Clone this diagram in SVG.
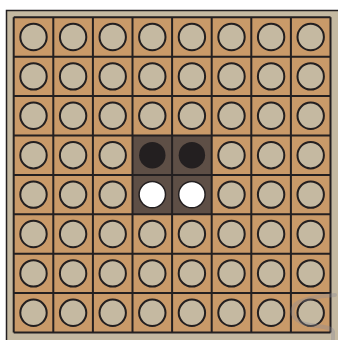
<svg xmlns="http://www.w3.org/2000/svg" width="338" height="340" viewBox="0 0 338 340">
<style>
.e{fill:#c5b9a1;stroke:#231f20;stroke-width:2}
.b{fill:#231f20}
.w{fill:#ffffff;stroke:#231f20;stroke-width:1.5}
.g{fill:none;stroke:#231f20;stroke-width:2}
</style>
<rect x="0" y="0" width="338" height="340" fill="#ffffff"/>
<rect x="6.5" y="10.5" width="332" height="330" fill="#c5b9a1"/>
<path d="M6.5 340V10.5H338" fill="none" stroke="#231f20" stroke-width="1.5"/>
<g id="board">
<rect x="13.7" y="17.3" width="316.8" height="315.2" fill="#c99a69"/>
<rect x="132.5" y="135.5" width="79.2" height="78.8" fill="#5e4f46"/>
<path class="g" d="M13.7 17.3V332.5M53.3 17.3V332.5M92.9 17.3V332.5M132.5 17.3V332.5M172.1 17.3V332.5M211.7 17.3V332.5M251.3 17.3V332.5M290.9 17.3V332.5M330.5 17.3V332.5M13.7 17.3H330.5M13.7 56.7H330.5M13.7 96.1H330.5M13.7 135.5H330.5M13.7 174.9H330.5M13.7 214.3H330.5M13.7 253.7H330.5M13.7 293.1H330.5M13.7 332.5H330.5"/>
</g>
<defs><circle id="c" r="13.2"/></defs>
<g id="r0"><use href="#c" class="e" x="33.5" y="37"/><use href="#c" class="e" x="73.1" y="37"/><use href="#c" class="e" x="112.7" y="37"/><use href="#c" class="e" x="152.3" y="37"/><use href="#c" class="e" x="191.9" y="37"/><use href="#c" class="e" x="231.5" y="37"/><use href="#c" class="e" x="271.1" y="37"/><use href="#c" class="e" x="310.7" y="37"/></g>
<g id="r1"><use href="#c" class="e" x="33.5" y="76.4"/><use href="#c" class="e" x="73.1" y="76.4"/><use href="#c" class="e" x="112.7" y="76.4"/><use href="#c" class="e" x="152.3" y="76.4"/><use href="#c" class="e" x="191.9" y="76.4"/><use href="#c" class="e" x="231.5" y="76.4"/><use href="#c" class="e" x="271.1" y="76.4"/><use href="#c" class="e" x="310.7" y="76.4"/></g>
<g id="r2"><use href="#c" class="e" x="33.5" y="115.8"/><use href="#c" class="e" x="73.1" y="115.8"/><use href="#c" class="e" x="112.7" y="115.8"/><use href="#c" class="e" x="152.3" y="115.8"/><use href="#c" class="e" x="191.9" y="115.8"/><use href="#c" class="e" x="231.5" y="115.8"/><use href="#c" class="e" x="271.1" y="115.8"/><use href="#c" class="e" x="310.7" y="115.8"/></g>
<g id="r3"><use href="#c" class="e" x="33.5" y="155.2"/><use href="#c" class="e" x="73.1" y="155.2"/><use href="#c" class="e" x="112.7" y="155.2"/><use href="#c" class="b" x="152.3" y="155.2"/><use href="#c" class="b" x="191.9" y="155.2"/><use href="#c" class="e" x="231.5" y="155.2"/><use href="#c" class="e" x="271.1" y="155.2"/><use href="#c" class="e" x="310.7" y="155.2"/></g>
<g id="r4"><use href="#c" class="e" x="33.5" y="194.6"/><use href="#c" class="e" x="73.1" y="194.6"/><use href="#c" class="e" x="112.7" y="194.6"/><use href="#c" class="w" x="152.3" y="194.6"/><use href="#c" class="w" x="191.9" y="194.6"/><use href="#c" class="e" x="231.5" y="194.6"/><use href="#c" class="e" x="271.1" y="194.6"/><use href="#c" class="e" x="310.7" y="194.6"/></g>
<g id="r5"><use href="#c" class="e" x="33.5" y="234"/><use href="#c" class="e" x="73.1" y="234"/><use href="#c" class="e" x="112.7" y="234"/><use href="#c" class="e" x="152.3" y="234"/><use href="#c" class="e" x="191.9" y="234"/><use href="#c" class="e" x="231.5" y="234"/><use href="#c" class="e" x="271.1" y="234"/><use href="#c" class="e" x="310.7" y="234"/></g>
<g id="r6"><use href="#c" class="e" x="33.5" y="273.4"/><use href="#c" class="e" x="73.1" y="273.4"/><use href="#c" class="e" x="112.7" y="273.4"/><use href="#c" class="e" x="152.3" y="273.4"/><use href="#c" class="e" x="191.9" y="273.4"/><use href="#c" class="e" x="231.5" y="273.4"/><use href="#c" class="e" x="271.1" y="273.4"/><use href="#c" class="e" x="310.7" y="273.4"/></g>
<g id="r7"><use href="#c" class="e" x="33.5" y="312.8"/><use href="#c" class="e" x="73.1" y="312.8"/><use href="#c" class="e" x="112.7" y="312.8"/><use href="#c" class="e" x="152.3" y="312.8"/><use href="#c" class="e" x="191.9" y="312.8"/><use href="#c" class="e" x="231.5" y="312.8"/><use href="#c" class="e" x="271.1" y="312.8"/><use href="#c" class="e" x="310.7" y="312.8"/></g>
<path d="M335 295C320 296 300 298 294 306C290 314 294 322 310 325C322 327 332 327 333 332V340" fill="none" stroke="#8a8a96" stroke-opacity="0.35" stroke-width="4" stroke-linecap="round"/>
</svg>
